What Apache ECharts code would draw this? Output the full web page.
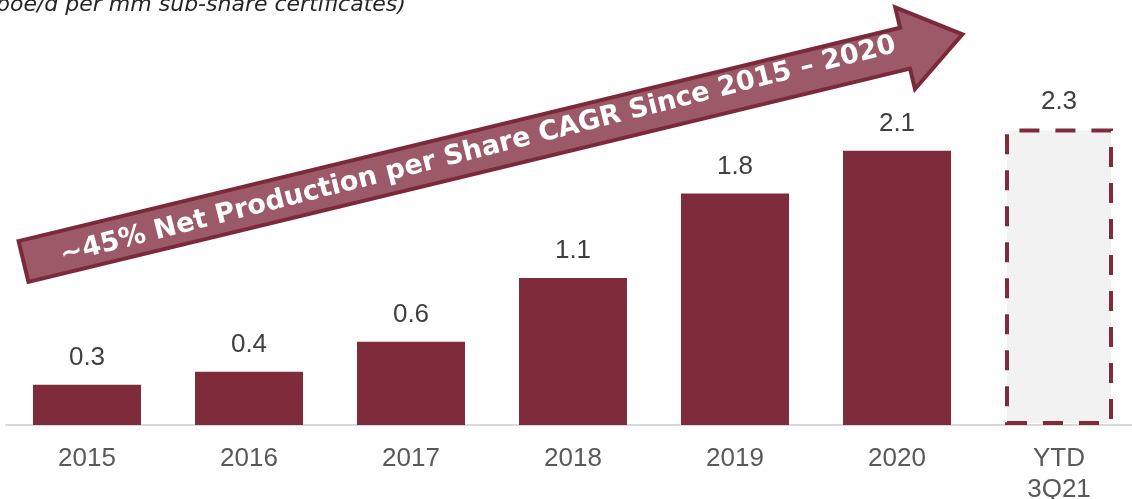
<!DOCTYPE html>
<html>
<head>
<meta charset="utf-8">
<script src="https://cdn.jsdelivr.net/npm/echarts@6/dist/echarts.min.js"></script>
<style>
  html, body { margin: 0; padding: 0; background: #fff; }
  #chart { width: 1132px; height: 499px; }
</style>
</head>
<body>
<div id="chart"></div>
<script>
// net production per share, boe/d per mm sub-share certificates
const years = ['2015', '2016', '2017', '2018', '2019', '2020', 'YTD\n3Q21'];
const production = [0.31, 0.41, 0.64, 1.13, 1.78, 2.11, 2.28];
const ytdIndex = 6;

const BAR_COLOR = '#7E2B3C';

var chart = echarts.init(document.getElementById('chart'));

// arrow angle, ccw
const ang = 13.6 * Math.PI / 180;

let seriesData = production.map((v, i) => {
  if (i === ytdIndex) {
    return {
      value: v,
      itemStyle: {
        color: '#F2F2F2',
        borderColor: BAR_COLOR,
        borderWidth: 4,
        borderType: [20, 16]
      }
    };
  }
  return v;
});

let opts = {
  animation: false,
  grid: { left: 6, top: 35, width: 1134, height: 390, outerBoundsMode: 'none', containLabel: false },
  xAxis: {
    type: 'category',
    data: years,
    axisLine: { lineStyle: { color: '#D9D9D9', width: 2 } },
    axisTick: { show: false },
    axisLabel: {
      color: '#595959',
      fontFamily: 'Liberation Sans',
      fontSize: 26,
      lineHeight: 31,
      margin: 18
    }
  },
  yAxis: {
    type: 'value',
    min: 0,
    max: 3,
    show: false,
    splitLine: { show: false }
  },
  series: [{
    type: 'bar',
    data: seriesData,
    barWidth: 108,
    itemStyle: { color: BAR_COLOR },
    label: {
      show: true,
      position: 'top',
      distance: 14,
      color: '#404040',
      fontFamily: 'Liberation Sans',
      fontSize: 26,
      formatter: (p) => p.value.toFixed(1)
    }
  }],
  graphic: [
    {
      type: 'text',
      left: -4,
      top: -6,
      style: {
        text: 'boe/d per mm sub-share certificates)',
        fill: '#262626',
        font: 'italic 22px "DejaVu Sans"'
      }
    },
    {
      type: 'group',
      x: 23.5,
      y: 261.5,
      rotation: ang,
      children: [
        {
          type: 'polygon',
          shape: {
            points: [[0, -21], [907, -21], [907, -42], [966, 0], [907, 42], [907, 21], [0, 21]]
          },
          style: { fill: '#9C5A68', stroke: '#7B2A3A', lineWidth: 4 }
        },
        {
          type: 'text',
          x: 468,
          y: -1,
          rotation: 0.6 * Math.PI / 180,
          style: {
            text: '~45% Net Production per Share CAGR Since 2015 \u2013 2020',
            fill: '#fff',
            font: 'bold 27px "DejaVu Sans"',
            align: 'center',
            verticalAlign: 'middle'
          }
        }
      ]
    }
  ]
};

chart.setOption(opts);
</script>
</body>
</html>
